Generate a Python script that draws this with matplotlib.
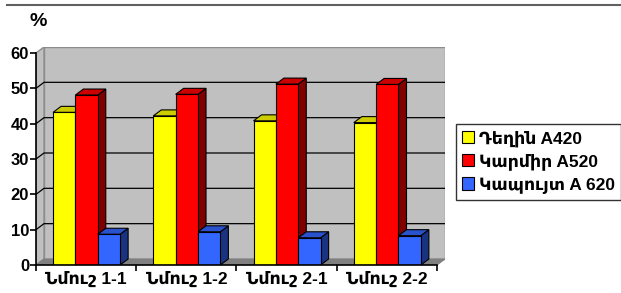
import matplotlib.pyplot as plt
from matplotlib.patches import Polygon, Patch
from matplotlib.lines import Line2D
import numpy as np

plt.rcParams['font.family'] = ['Liberation Sans', 'DejaVu Sans']
plt.rcParams['font.weight'] = 'bold'

categories = ['Նմուշ 1-1', 'Նմուշ 1-2', 'Նմուշ 2-1', 'Նմուշ 2-2']
series_names = ['Դեղին A420', 'Կարմիր A520', 'Կապույտ A 620']
yellow = [43.2, 42.2, 40.8, 40.3]
red = [48.1, 48.3, 51.2, 51.1]
blue = [8.7, 9.4, 7.7, 8.3]
yticks = [0, 10, 20, 30, 40, 50, 60]

# front, top, side colours per series
colors = [('#ffff00', '#cccc00', '#999900'),
          ('#ff0000', '#cc0000', '#800000'),
          ('#3366ff', '#2952cc', '#1a3380')]

dx, dy = 0.08, 1.7   # 3d depth offset in data units
w = 0.223
gap = 0.17

W, H = 621, 293
fig = plt.figure(figsize=(W / 100, H / 100), dpi=100)
ax = fig.add_axes([36 / W, (H - 265) / H, 409 / W, 218 / H])
ax.set_xlim(0, 4 + dx)
ax.set_ylim(0, 60 + dy)
ax.patch.set_visible(False)

# walls and floor
ax.add_patch(Polygon([(dx, dy), (4 + dx, dy), (4 + dx, 60 + dy), (dx, 60 + dy)],
                     closed=True, fc='#c0c0c0', ec='#8c8c8c', lw=1, zorder=0))
ax.add_patch(Polygon([(0, 0), (dx, dy), (dx, 60 + dy), (0, 60)],
                     closed=True, fc='#c0c0c0', ec='#8c8c8c', lw=1, zorder=0))
ax.add_patch(Polygon([(0, 0), (4, 0), (4 + dx, dy), (dx, dy)],
                     closed=True, fc='#808080', ec='#808080', lw=0.8, zorder=0.5))
for y in yticks[1:-1]:
    ax.plot([0, dx, 4 + dx], [y, y + dy, y + dy], color='black', lw=0.9, zorder=0.8)

data = [yellow, red, blue]
for i in range(len(categories)):
    for j, vals in enumerate(data):
        v = vals[i]
        x0 = i + gap + j * w
        front, top, side = colors[j]
        ax.add_patch(Polygon([(x0 + w, 0), (x0 + w + dx, dy), (x0 + w + dx, v + dy), (x0 + w, v)],
                             closed=True, fc=side, ec='black', lw=0.8, zorder=2))
        ax.add_patch(Polygon([(x0, v), (x0 + dx, v + dy), (x0 + w + dx, v + dy), (x0 + w, v)],
                             closed=True, fc=top, ec='black', lw=0.8, zorder=2))
        ax.add_patch(Polygon([(x0, 0), (x0 + w, 0), (x0 + w, v), (x0, v)],
                             closed=True, fc=front, ec='black', lw=0.8, zorder=2))

for s in ['top', 'right']:
    ax.spines[s].set_visible(False)
ax.spines['left'].set_bounds(0, 60)
ax.spines['bottom'].set_bounds(0, 4)
ax.spines['left'].set_linewidth(1.2)
ax.spines['bottom'].set_linewidth(1.2)
ax.spines['bottom'].set_zorder(3)

ax.set_yticks(yticks)
ax.tick_params(axis='y', direction='out', length=4, width=1.2, pad=1, labelsize=12)
ax.set_xticks(range(5))
ax.set_xticklabels([])
ax.tick_params(axis='x', which='major', direction='out', length=4, width=1.2)
ax.set_xticks(np.arange(len(categories)) + 0.5, minor=True)
ax.set_xticklabels(categories, minor=True, fontsize=12.5)
ax.tick_params(axis='x', which='minor', length=0, pad=4)

fig.text(30 / W, 1 - 22 / H, '%', fontsize=14, fontweight='bold', va='center', ha='left')
fig.add_artist(Line2D([7 / W, 1], [1 - 5 / H, 1 - 5 / H], color='#606060', lw=1.5))

handles = [Patch(fc=c[0], ec='black', lw=0.8) for c in colors]
leg = fig.legend(handles, series_names, loc='upper left',
                 bbox_to_anchor=(456 / W, 1 - 124 / H), fontsize=12.5,
                 frameon=True, fancybox=False, edgecolor='black',
                 handlelength=0.7, handleheight=0.7, handletextpad=0.25,
                 labelspacing=0.4, borderpad=0.35, borderaxespad=0)
leg.get_frame().set_linewidth(1)

fig.savefig('out.png', dpi=100)
